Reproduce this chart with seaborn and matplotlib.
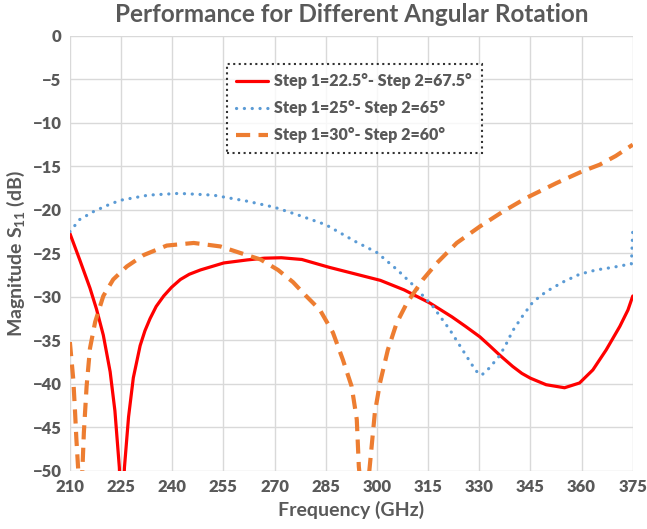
import matplotlib
matplotlib.use("Agg")
import matplotlib.pyplot as plt
import seaborn as sns

# --- Datos ---
red_freq = [210, 212.9, 215.9, 217.8, 219.8, 221.8, 223.2, 224.5, 225.2, 226.0, 227.2, 228.6,
            230.6, 232, 233.5, 235.3, 237.5, 239.8, 242.4, 245, 248.3, 255.1, 262, 267, 272,
            278, 286, 293, 301, 308, 315.5, 322, 326, 330.2, 333, 336, 339.8, 342.5, 345, 349.6,
            355, 359.4, 363.3, 367.2, 371.2, 373.6, 375]
red_db = [-22.7, -25.75, -29.0, -31.4, -34.4, -38.6, -43.1, -49.6, -56, -49.6, -43.8, -39.3,
          -35.6, -33.9, -32.5, -31.1, -29.9, -28.9, -28.0, -27.4, -26.9, -26.1, -25.75, -25.55,
          -25.5, -25.7, -26.6, -27.3, -28.1, -29.2, -30.7, -32.3, -33.4, -34.6, -35.6, -36.7,
          -38.0, -38.8, -39.35, -40.1, -40.45, -39.9, -38.4, -36.1, -33.4, -31.5, -29.9]

blue_freq = [210, 212.9, 216.9, 220.8, 224.7, 233, 242, 252, 262, 270, 277, 285, 294, 300, 306,
             310.5, 316.4, 321.4, 326.4, 329, 330.7, 332.9, 335.9, 337.8, 339.8, 342.7, 345.7,
             349.6, 354.5, 359.4, 364.3, 369.2, 374.6, 375]
blue_db = [-22.5, -21.1, -20.2, -19.5, -18.9, -18.3, -18.1, -18.3, -19.0, -19.7, -20.6, -21.7,
           -23.7, -24.9, -26.9, -28.6, -31.1, -33.8, -36.9, -38.5, -39.0, -38.2, -36.8, -35.5,
           -33.9, -32.2, -30.6, -29.4, -28.3, -27.4, -26.9, -26.6, -26.2, -22.3]

orange_freq = [210, 211, 211.5, 211.9, 212.4, 213.0, 213.7, 214.1, 214.9, 215.9, 217.4, 219.8,
               222.7, 226.7, 231.6, 238.4, 246.3, 254.1, 261.9, 265.9, 271, 275.4, 279, 283.3,
               287.1, 290, 292.6, 294.1, 294.7, 296.3, 297.9, 299.4, 300.9, 303.2, 305.8, 308.8,
               313.5, 317.6, 323.4, 330.2, 336.9, 343.9, 352.7, 360, 365.3, 370, 375]
orange_db = [-35.2, -39.5, -43.1, -46.3, -49.6, -55, -49.6, -45.6, -40.3, -35.9, -32.9, -29.9,
             -28.0, -26.5, -25.2, -24.1, -23.8, -24.2, -25.2, -25.7, -26.9, -28.3, -29.8, -31.5,
             -34.1, -37.2, -40.3, -44.1, -49.5, -56, -49.5, -43.3, -39.9, -36.1, -33.0, -30.7,
             -28.0, -26.1, -23.8, -21.9, -20.2, -18.6, -16.9, -15.6, -14.8, -13.8, -12.5]

labels = ["Step 1=22.5°- Step 2=67.5°", "Step 1=25°- Step 2=65°", "Step 1=30°- Step 2=60°"]
x_ticks = list(range(210, 376, 15))
y_ticks = list(range(-50, 1, 5))

GRIS = "#595959"

sns.set_theme(style="whitegrid")
plt.rcParams["font.family"] = ["Lato", "DejaVu Sans"]
plt.rcParams["font.weight"] = "bold"
plt.rcParams["mathtext.fontset"] = "custom"
plt.rcParams["mathtext.rm"] = "Lato:bold"
plt.rcParams["mathtext.bf"] = "Lato:bold"
plt.rcParams["mathtext.it"] = "Lato:bold"

fig, ax = plt.subplots(figsize=(6.47, 5.29), dpi=100)
fig.subplots_adjust(left=0.108, right=0.978, top=0.932, bottom=0.110)

sns.lineplot(x=red_freq, y=red_db, ax=ax, color="#FF0000", linewidth=2.3, label=labels[0])
sns.lineplot(x=blue_freq, y=blue_db, ax=ax, color="#5B9BD5", linewidth=2.3,
             linestyle=(0, (0.05, 2.4)), dash_capstyle="round", label=labels[1])
sns.lineplot(x=orange_freq, y=orange_db, ax=ax, color="#ED7D31", linewidth=3.0,
             linestyle=(0, (3.4, 2.0)), label=labels[2])

ax.set_xlim(210, 375)
ax.set_ylim(-50, 0)
ax.set_xticks(x_ticks)
ax.set_yticks(y_ticks)
ax.grid(True, color="#D9D9D9", linewidth=1.0)
for s in ax.spines.values():
    s.set_visible(False)
ax.tick_params(axis="both", length=0, labelsize=12, labelcolor=GRIS, pad=6)
for lab in ax.get_xticklabels() + ax.get_yticklabels():
    lab.set_fontweight("heavy")

ax.set_title("Performance for Different Angular Rotation", fontsize=17.5, fontweight="bold",
             color=GRIS, pad=10)
ax.set_xlabel("Frequency (GHz)", fontsize=14, fontweight="bold", color=GRIS, labelpad=4)
ax.set_ylabel(r"Magnitude S$_{11}$ (dB)", fontsize=14, fontweight="bold", color=GRIS, labelpad=4)

leg = ax.legend(loc="upper center", bbox_to_anchor=(0.505, 0.955), fancybox=False,
                handlelength=2.0, handletextpad=0.4, labelspacing=0.7, borderpad=0.6,
                prop={"weight": "heavy", "size": 11.5})
leg.get_frame().set_edgecolor("black")
leg.get_frame().set_linestyle(":")
leg.get_frame().set_linewidth(1.5)
for t in leg.get_texts():
    t.set_color(GRIS)

plt.savefig("out.png", dpi=100)
